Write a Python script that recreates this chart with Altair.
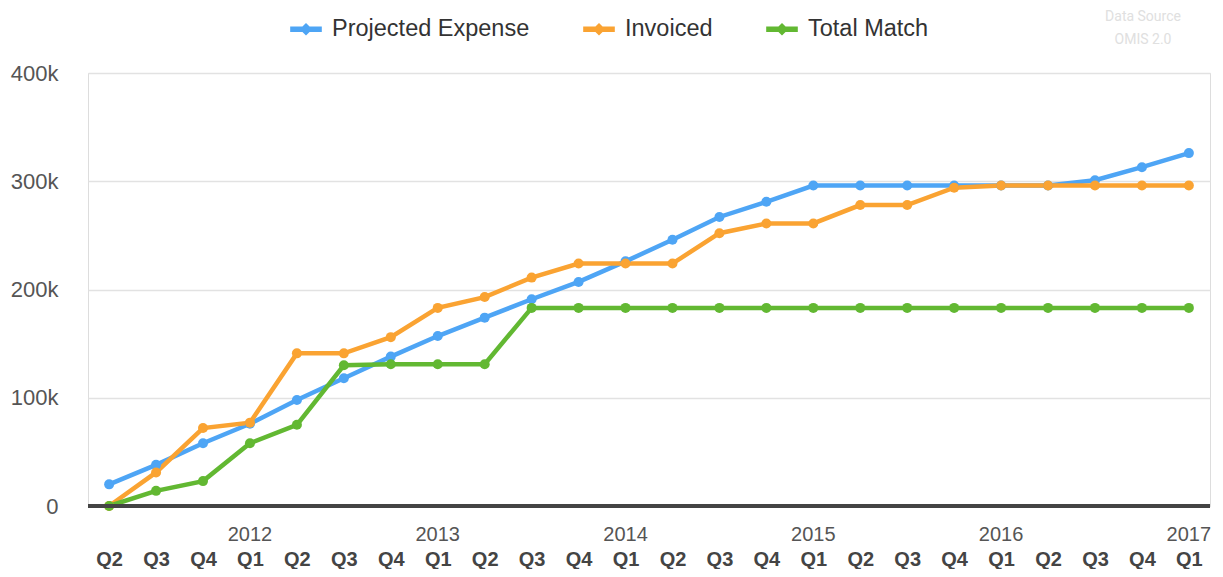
import altair as alt
import pandas as pd

periods = ["2011 Q2", "2011 Q3", "2011 Q4", "2012 Q1", "2012 Q2", "2012 Q3", "2012 Q4",
           "2013 Q1", "2013 Q2", "2013 Q3", "2013 Q4", "2014 Q1", "2014 Q2", "2014 Q3",
           "2014 Q4", "2015 Q1", "2015 Q2", "2015 Q3", "2015 Q4", "2016 Q1", "2016 Q2",
           "2016 Q3", "2016 Q4", "2017 Q1"]
projected = [20000, 38000, 58000, 76000, 98000, 118000, 138000, 157000, 174000, 191000,
             207000, 226000, 246000, 267000, 281000, 296000, 296000, 296000, 296000, 296000,
             296000, 301000, 313000, 326000]
invoiced = [0, 31000, 72000, 77000, 141000, 141000, 156000, 183000, 193000, 211000,
            224000, 224000, 224000, 252000, 261000, 261000, 278000, 278000, 294000, 296000,
            296000, 296000, 296000, 296000]
total_match = [0, 14000, 23000, 58000, 75000, 130000, 131000, 131000, 131000, 183000,
               183000, 183000, 183000, 183000, 183000, 183000, 183000, 183000, 183000, 183000,
               183000, 183000, 183000, 183000]
series_names = ["Projected Expense", "Invoiced", "Total Match"]
series_colors = ["#4EA5F5", "#FAA332", "#62B832"]
year_periods = ["2012 Q1", "2013 Q1", "2014 Q1", "2015 Q1", "2016 Q1", "2017 Q1"]
year_labels = ["2012", "2013", "2014", "2015", "2016", "2017"]
y_ticks = [0, 100000, 200000, 300000, 400000]
source_lines = ["Data Source", "OMIS 2.0"]

rows = []
for name, vals in zip(series_names, [projected, invoiced, total_match]):
    for p, v in zip(periods, vals):
        rows.append({"period": p, "value": v, "series": name})
df = pd.DataFrame(rows)
years_df = pd.DataFrame({"period": year_periods, "year": year_labels})
src_df = pd.DataFrame({"line": source_lines, "py": [-56, -33]})

W, H = 1122, 433
FONT = "Liberation Sans"

xscale = alt.Scale(type="point", padding=0.45, domain=periods)
yscale = alt.Scale(domain=[0, 400000], nice=False)

sym = "M-1,-0.17 L1,-0.17 L1,0.17 L-1,0.17 Z M-0.4,0 L0,-0.4 L0.4,0 L0,0.4 Z"

color = alt.Color("series:N",
                  scale=alt.Scale(domain=series_names, range=series_colors),
                  legend=alt.Legend(title=None, orient="none", direction="horizontal",
                                    legendX=202, legendY=-60, symbolType=sym, symbolSize=1000,
                                    symbolStrokeWidth=0, labelFontSize=23.5, labelColor="#333",
                                    labelFont=FONT, columnPadding=53, labelOffset=10,
                                    labelLimit=400, symbolOpacity=1))

base = alt.Chart(df).encode(
    x=alt.X("period:O", scale=xscale, sort=periods,
            axis=alt.Axis(title=None, labelExpr="split(datum.label, ' ')[1]", labelAngle=0,
                          labelFontSize=20, labelFontWeight="bold", labelColor="#444",
                          labelFont=FONT, ticks=False, domain=False, grid=False,
                          labelPadding=43)),
    y=alt.Y("value:Q", scale=yscale,
            axis=alt.Axis(title=None, values=y_ticks,
                          labelExpr="datum.value == 0 ? '0' : (datum.value / 1000) + 'k'",
                          labelFontSize=22, labelColor="#555", labelFont=FONT,
                          ticks=False, domain=False, gridColor="#e2e2e2", gridWidth=1.5,
                          labelPadding=30)),
    color=color,
)

lines = base.mark_line(strokeWidth=4.5)
points = base.mark_point(filled=True, size=100, opacity=1)

zero = alt.Chart(df).mark_rule(color="#444", strokeWidth=3).encode(
    y=alt.Y(datum=0))

years = alt.Chart(years_df).mark_text(fontSize=20, color="#555", font=FONT,
                                      baseline="middle").encode(
    x=alt.X("period:O", scale=xscale, sort=periods),
    y=alt.value(H + 29),
    text="year:N",
)

src = alt.Chart(src_df).mark_text(fontSize=14, color="#e0e0e0", font="Roboto",
                                  baseline="middle").encode(
    x=alt.value(1055),
    y=alt.Y("py:Q", scale=None),
    text="line:N",
)

chart = alt.layer(lines, points, zero, years, src).properties(
    width=W, height=H,
    autosize=alt.AutoSizeParams(type="none"),
    padding={"left": 80, "top": 65, "right": 5, "bottom": 63},
).configure_view(stroke=None).configure(background="white")

chart.save("out.html", embed_options={"renderer": "svg", "actions": False})
